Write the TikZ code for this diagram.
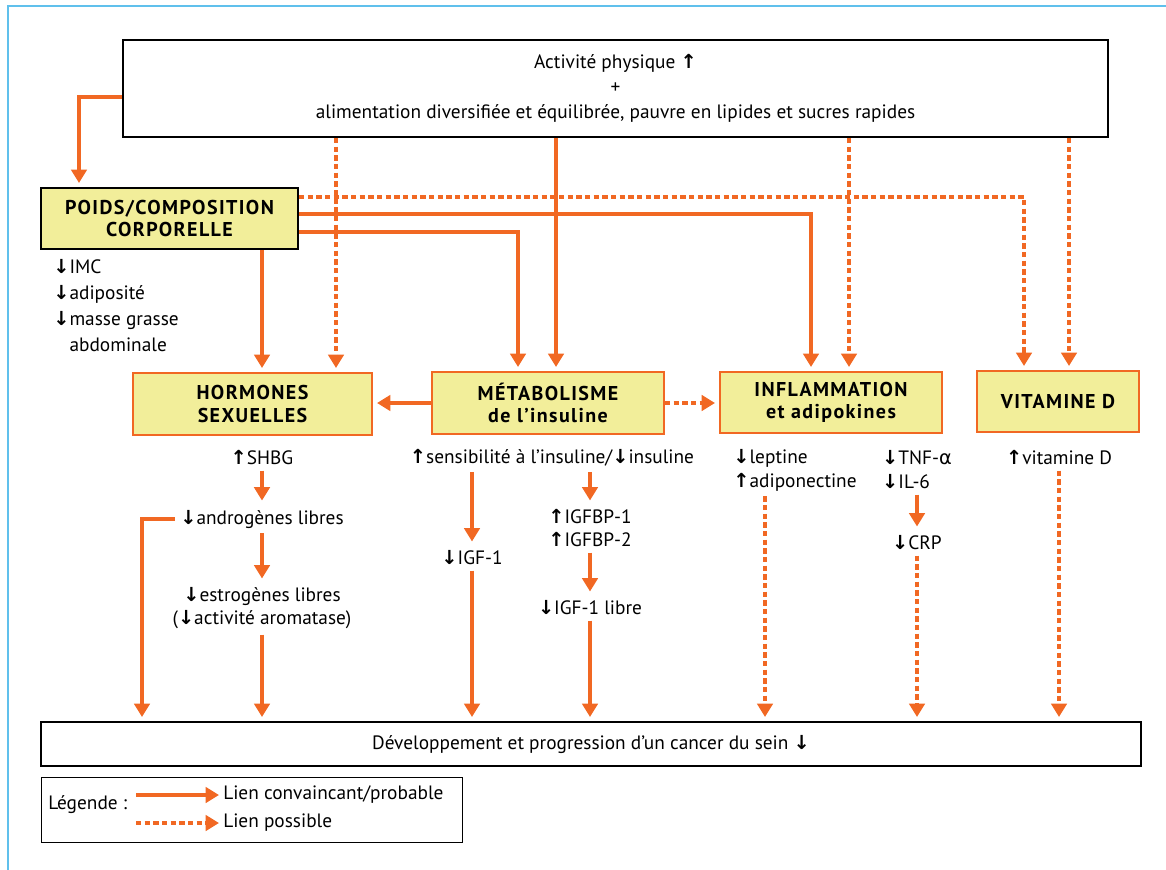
\documentclass[tikz,border=0pt]{standalone}
\usepackage{fontspec}
\setmainfont{PT Sans}
\newfontfamily\symfont{DejaVu Sans}
\newfontfamily\headfont[LetterSpace=7]{PT Sans}
\usepackage{tikz}
\usetikzlibrary{positioning,arrows.meta}

\definecolor{lienorange}{RGB}{241,104,35}
\definecolor{boxyellow}{RGB}{242,238,154}
\definecolor{framebleu}{RGB}{96,192,236}
\newcommand{\hausse}{{\symfont\bfseries\char"2191}}
\newcommand{\baisse}{{\symfont\bfseries\char"2193}}

\begin{document}
\begin{tikzpicture}[
  x=0.75pt,y=-0.75pt,
  font=\fontsize{14.5}{18}\selectfont,
  blackbox/.style={draw=black,line width=1.5pt,fill=white,inner sep=2pt,align=center},
  headbox/.style={draw=lienorange,line width=1.5pt,fill=boxyellow,align=center,
    font=\headfont\fontsize{15}{17}\selectfont\bfseries},
  txt/.style={inner sep=1pt,outer sep=3pt,align=center},
  conv/.style={draw=lienorange,line width=2.8pt,-{Triangle[length=10pt,width=11.5pt]},shorten >=3pt},
  poss/.style={draw=lienorange,line width=2.6pt,dash pattern=on 4pt off 2.5pt,
    -{Triangle[length=10pt,width=11.5pt]},shorten >=3pt}
]
\useasboundingbox (0,0) rectangle (1166,870);
\draw[framebleu,line width=1.5pt] (1166,6) -- (8,6) -- (8,870);

% boxes
\node[blackbox,minimum width=738.75pt,minimum height=72.75pt,font=\fontsize{14.5}{18.5}\selectfont] (act) at (615.5,88.5)
  {\raisebox{0pt}{}Activité physique \hausse\\ +\\ alimentation diversifiée et équilibrée, pauvre en lipides et sucres rapides};
\node[headbox,draw=black,minimum width=192.75pt,minimum height=45.75pt] (poids) at (169.5,218.5)
  {POIDS/COMPOSITION\\ CORPORELLE};
\node[headbox,minimum width=179.25pt,minimum height=46.5pt] (horm) at (252.5,404) {HORMONES\\ SEXUELLES};
\node[headbox,minimum width=174pt,minimum height=46.5pt] (meta) at (548,403) {MÉTABOLISME\\ de l’insuline};
\node[headbox,minimum width=166.5pt,minimum height=45.75pt] (infl) at (831,402.5) {INFLAMMATION\\ et adipokines};
\node[headbox,minimum width=121.5pt,minimum height=45.75pt] (vitd) at (1058,401.5) {VITAMINE D};
\node[blackbox,minimum width=825pt,minimum height=33pt] (dev) at (591,744)
  {Développement et progression d’un cancer du sein \baisse};

% texts
\node[txt,align=left,anchor=west,font=\fontsize{14.5}{19.5}\selectfont] (imc) at (48,306)
  {\baisse IMC\\ \baisse adiposité\\ \baisse masse grasse\\ \phantom{\baisse}abdominale};
\node[txt] (shbg) at (262,458) {\hausse SHBG};
\node[txt] (andr) at (262,519) {\baisse androgènes libres};
\node[txt,font=\fontsize{14.5}{17.25}\selectfont] (estr) at (262,608.5)
  {\baisse estrogènes libres\\ (\baisse activité aromatase)};
\node[txt] (sens) at (552,458) {\hausse sensibilité à l’insuline/\baisse insuline};
\node[txt] (igf) at (472,558) {\baisse IGF-1};
\node[txt,font=\fontsize{14.5}{17.25}\selectfont] (igfbp) at (590,528.5) {\hausse IGFBP-1\\ \hausse IGFBP-2};
\node[txt] (igfl) at (590,608) {\baisse IGF-1 libre};
\node[txt,align=left] (lept) at (795,470) {\baisse leptine\\ \hausse adiponectine};
\node[txt,align=left] (tnf) at (917,470) {\baisse TNF-{\symfont α}\\ \baisse IL-6};
\node[txt] (crp) at (917,543) {\baisse CRP};
\node[txt] (vitdt) at (1059,458) {\hausse vitamine D};

% legend
\node[draw=black,line width=1pt,minimum width=315.75pt,minimum height=48.75pt,anchor=north west] (legende) at (41,777) {};
\node[anchor=west,inner sep=0pt] (legtitre) at (48,805) {Légende :};
\node[anchor=west,inner sep=0pt] (lconv) at (223,795) {Lien convaincant/probable};
\node[anchor=west,inner sep=0pt] (lposs) at (223,823) {Lien possible};
\coordinate (lc) at (136,795);
\coordinate (lp) at (136,823);

% bends and columns
\coordinate (k0) at (79,97);
\coordinate (k1) at (1024,197);
\coordinate (k2) at (811,214);
\coordinate (k3) at (518,232);
\coordinate (k4) at (142,519);
\coordinate (xsolid) at (556,0);
\coordinate (xhorm) at (336,0);
\coordinate (xpoids) at (262,0);
\coordinate (xinfl) at (849,0);
\coordinate (xvitd) at (1069,0);
\coordinate (xlept) at (765,0);

% links
\draw[conv] (act.west |- k0) -- (k0) -- (poids.north -| k0);
\draw[poss] (poids.east |- k1) -| (vitd.north -| k1);
\draw[conv] (poids.east |- k2) -| (infl.north -| k2);
\draw[conv] (poids.east |- k3) -| (meta.north -| k3);
\path (act.south -| xsolid) edge[conv] (meta.north -| xsolid)
  (act.south -| xhorm) edge[poss] (horm.north -| xhorm)
  (poids.south -| xpoids) edge[conv] (horm.north -| xpoids)
  (act.south -| xinfl) edge[poss] (infl.north -| xinfl)
  (act.south -| xvitd) edge[poss] (vitd.north -| xvitd)
  (meta.west) edge[conv] (horm.east |- meta.west)
  (meta.east) edge[poss] (infl.west |- meta.east);

\path (shbg) edge[conv] (andr)
  (andr) edge[conv] (estr)
  (estr) edge[conv] (dev.north -| estr)
  (sens.south -| igf) edge[conv] (igf)
  (igf) edge[conv] (dev.north -| igf)
  (sens.south -| igfbp) edge[conv] (igfbp)
  (igfbp) edge[conv] (igfl)
  (igfl) edge[conv] (dev.north -| igfl)
  (lept.south -| xlept) edge[poss] (dev.north -| xlept)
  (tnf) edge[conv] (crp)
  (crp) edge[poss] (dev.north -| crp)
  (vitdt) edge[poss] (dev.north -| vitdt);
\draw[conv] (andr.west) -- (k4) -- (dev.north -| k4);

\path (lc) edge[conv] (lconv.west)
  (lp) edge[poss] (lposs.west);
\end{tikzpicture}
\end{document}
